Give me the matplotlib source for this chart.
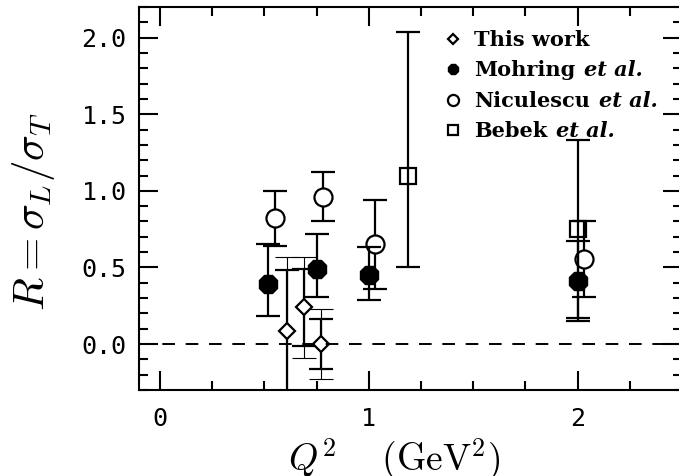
import matplotlib
matplotlib.use('Agg')
import matplotlib.pyplot as plt
from matplotlib.lines import Line2D
from matplotlib.ticker import MultipleLocator

# ---------------- data ----------------
tw_x = [0.61, 0.69, 0.77]
tw_y = [0.085, 0.24, 0.0]
tw_stat = [0.40, 0.25, 0.165]
tw_tot = [0.48, 0.33, 0.23]

mo_x = [0.52, 0.75, 1.00, 2.00]
mo_y = [0.39, 0.49, 0.45, 0.41]
mo_lo = [0.21, 0.18, 0.16, 0.26]
mo_hi = [0.26, 0.23, 0.185, 0.26]

ni_x = [0.55, 0.78, 1.03, 2.03]
ni_y = [0.82, 0.96, 0.65, 0.555]
ni_err = [0.18, 0.16, 0.29, 0.245]

be_x = [1.19, 2.00]
be_y = [1.10, 0.75]
be_lo = [0.60, 0.58]
be_hi = [0.94, 0.58]

labels = ["This work", "Mohring", "Niculescu", "Bebek"]
suffix = ["", "et al.", "et al.", "et al."]

xticks = [0, 1, 2]
yticks = [0.0, 0.5, 1.0, 1.5, 2.0]

# ---------------- figure ----------------
plt.rcParams['mathtext.fontset'] = 'cm'
fig = plt.figure(figsize=(6.79, 4.76), dpi=100)
W, H = 679, 476
ax = fig.add_axes([139 / W, 86 / H, 543 / W, 383 / H])

ax.set_xlim(-0.1, 2.5)
ax.set_ylim(-0.3, 2.2)

cap = 8.6
# Niculescu
ax.errorbar(ni_x, ni_y, yerr=ni_err, fmt='none', ecolor='k', elinewidth=1.6,
            capsize=cap, capthick=1.6, zorder=2)
ax.plot(ni_x, ni_y, ls='none', marker='o', ms=13, mfc='white', mec='k',
        mew=1.6, zorder=3)
# Mohring
ax.errorbar(mo_x, mo_y, yerr=[mo_lo, mo_hi], fmt='none', ecolor='k',
            elinewidth=1.6, capsize=cap, capthick=1.6, zorder=4)
ax.plot(mo_x, mo_y, ls='none', marker='8', ms=14, mfc='k', mec='k',
        mew=1.0, zorder=5)
# Bebek
ax.errorbar(be_x, be_y, yerr=[be_lo, be_hi], fmt='none', ecolor='k',
            elinewidth=1.6, capsize=cap, capthick=1.6, zorder=6)
ax.plot(be_x, be_y, ls='none', marker='s', ms=11, mfc='none', mec='k',
        mew=1.6, zorder=7)
# This work: total (thin) and statistical (thick)
ax.errorbar(tw_x, tw_y, yerr=tw_tot, fmt='none', ecolor='k', elinewidth=0.8,
            capsize=cap, capthick=0.8, zorder=8)
ax.errorbar(tw_x, tw_y, yerr=tw_stat, fmt='none', ecolor='k', elinewidth=1.6,
            capsize=cap, capthick=1.6, zorder=8)
ax.plot(tw_x, tw_y, ls='none', marker='D', ms=8.5, mfc='white', mec='k',
        mew=1.6, zorder=9)

ax.axhline(0.0, color='k', lw=1.4, ls=(0, (6.5, 5.5)), zorder=10)

# ---------------- axes styling ----------------
for s in ax.spines.values():
    s.set_linewidth(1.5)
ax.set_xticks(xticks)
ax.set_yticks(yticks)
ax.set_xticklabels([str(v) for v in xticks])
ax.set_yticklabels([f"{v:.1f}" for v in yticks])
ax.xaxis.set_minor_locator(MultipleLocator(0.25))
ax.yaxis.set_minor_locator(MultipleLocator(0.1))
ax.tick_params(which='both', direction='in', top=True, right=True, width=1.5)
ax.tick_params(which='major', length=14)
ax.tick_params(which='minor', length=6.5)
ax.tick_params(axis='y', which='major', pad=9)
ax.tick_params(axis='x', which='major', pad=12)
for lab in ax.get_xticklabels() + ax.get_yticklabels():
    lab.set_fontfamily('DejaVu Sans Mono')
    lab.set_fontsize(18)

fig.text(34 / W, 1 - 212 / H, r'$R=\sigma_L/\sigma_T$', rotation=90,
         ha='center', va='center', fontsize=31)
fig.text(394 / W, 5 / H, r'$Q^2\ \ \ \ (\mathrm{GeV}^2)$', ha='center',
         va='baseline', fontsize=27)

# ---------------- legend ----------------
handles = [
    Line2D([], [], ls='none', marker='D', ms=5, mfc='white', mec='k', mew=1.6),
    Line2D([], [], ls='none', marker='8', ms=8, mfc='k', mec='k', mew=1.0),
    Line2D([], [], ls='none', marker='o', ms=8, mfc='white', mec='k', mew=1.6),
    Line2D([], [], ls='none', marker='s', ms=7, mfc='none', mec='k', mew=1.6),
]
leg = ax.legend(handles, labels, loc='upper left',
                bbox_to_anchor=(443 / W, 1 - 30 / H),
                bbox_transform=fig.transFigure, frameon=False,
                handlelength=1.0, handletextpad=0.5, borderpad=0,
                borderaxespad=0, labelspacing=0.5,
                prop={'family': 'DejaVu Serif', 'weight': 'bold', 'size': 15})
leg.set_zorder(20)

fig.canvas.draw()
renderer = fig.canvas.get_renderer()
for t, suf in zip(leg.get_texts(), suffix):
    if not suf:
        continue
    bb = t.get_window_extent(renderer)
    fig.text(bb.x1 + 9, bb.y0, suf, ha='left', va='bottom',
             family='DejaVu Serif', weight='bold', style='italic', size=15,
             transform=None, zorder=20)

fig.savefig('out.png', dpi=100)
